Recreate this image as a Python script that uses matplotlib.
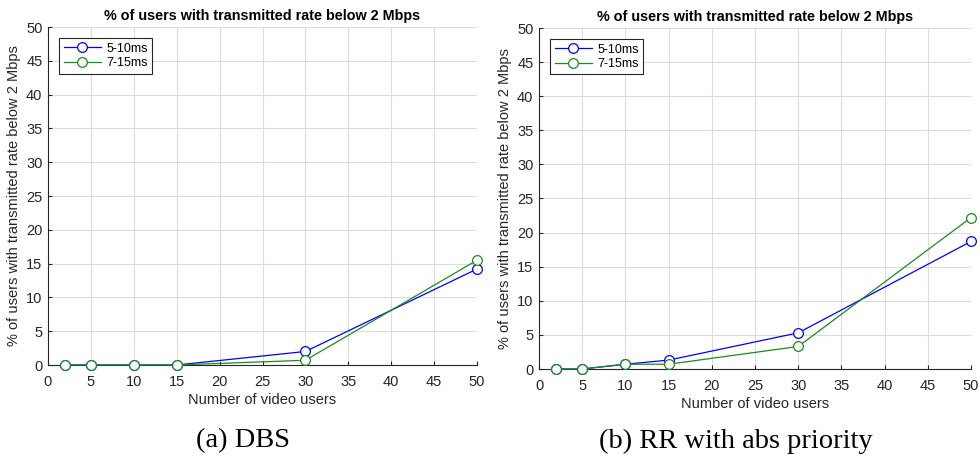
import matplotlib.pyplot as plt

# data
users = [2, 5, 10, 15, 30, 50]
dbs_5_10 = [0, 0, 0, 0, 2.0, 14.2]
dbs_7_15 = [0, 0, 0, 0, 0.7, 15.5]
rr_5_10 = [0, 0, 0.7, 1.3, 5.3, 18.7]
rr_7_15 = [0, 0, 0.7, 0.7, 3.3, 22.2]
labels = ['5-10ms', '7-15ms']
captions = ['(a) DBS', '(b) RR with abs priority']

plt.rcParams['font.family'] = ['Liberation Sans', 'DejaVu Sans']

fig = plt.figure(figsize=(9.8, 4.61), dpi=100)
W, H = 980, 461
boxes = [(48, 27, 477, 365), (539, 28, 971, 369)]
series = [(dbs_5_10, dbs_7_15), (rr_5_10, rr_7_15)]

for (x0, y0, x1, y1), (s1, s2), cap in zip(boxes, series, captions):
    ax = fig.add_axes([x0 / W, 1 - y1 / H, (x1 - x0) / W, (y1 - y0) / H])
    ax.plot(users, s1, '-o', color='#0000ff', lw=0.9, ms=7,
            mfc='white', mew=0.9, label=labels[0], clip_on=False, zorder=3)
    ax.plot(users, s2, '-o', color='#1a8c1a', lw=0.9, ms=7,
            mfc='white', mew=0.9, label=labels[1], clip_on=False, zorder=3)
    ax.set_xlim(0, 50)
    ax.set_ylim(0, 50)
    ax.set_xticks(range(0, 51, 5))
    ax.set_yticks(range(0, 51, 5))
    ax.grid(True, color='#dcdcdc', lw=0.8)
    ax.set_axisbelow(True)
    for s in ['top', 'right']:
        ax.spines[s].set_visible(False)
    for s in ['left', 'bottom']:
        ax.spines[s].set_color('#262626')
        ax.spines[s].set_linewidth(0.8)
    ax.tick_params(direction='in', length=3, labelsize=10.5, colors='#262626',
                   labelcolor='#262626')
    ax.tick_params(axis='x', pad=7)
    ax.tick_params(axis='y', pad=4)
    ax.set_xlabel('Number of video users', fontsize=10.5, color='#262626', labelpad=3)
    ax.set_ylabel('% of users with transmitted rate below 2 Mbps', fontsize=10.5,
                  color='#262626', labelpad=4)
    ax.set_title('% of users with transmitted rate below 2 Mbps', fontsize=10.4,
                 fontweight='bold', pad=5)
    leg = ax.legend(loc='upper left', fontsize=9, fancybox=False, framealpha=1,
                    edgecolor='#262626', borderaxespad=0.9, handlelength=3,
                    borderpad=0.35, labelspacing=0.2, handletextpad=0.4)
    leg.get_frame().set_linewidth(0.8)
    fig.text((x0 + x1) / 2 / W - 19 / W, 1 - 441 / H, cap, ha='center', va='center',
             fontsize=20.5, family='Liberation Serif')

fig.savefig('out.png', dpi=100)
